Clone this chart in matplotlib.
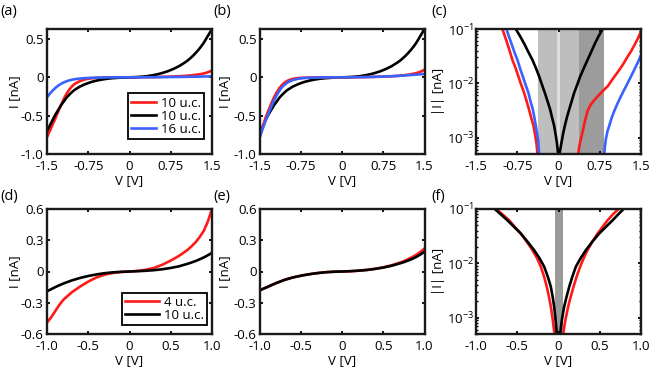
import matplotlib
matplotlib.use("Agg")
import matplotlib.pyplot as plt
from matplotlib.ticker import LogLocator, NullFormatter

plt.rcParams['font.family'] = ['Open Sans', 'DejaVu Sans']
plt.rcParams['font.size'] = 9.5
plt.rcParams['axes.unicode_minus'] = False

RED = '#ff1a1a'
BLUE = '#3a62ff'
BLACK = '#000000'

# ---- data ----
# panels (a), (b): I-V, 1.5 V sweep
v_ab = [-1.5, -1.45, -1.4, -1.35, -1.3, -1.25, -1.2, -1.15, -1.1, -1.05, -1.0,
        -0.9, -0.8, -0.7, -0.6, -0.5, -0.4, -0.3, -0.2, -0.1, 0,
        0.1, 0.2, 0.3, 0.4, 0.5, 0.6, 0.7, 0.8, 0.9, 1.0,
        1.05, 1.1, 1.15, 1.2, 1.25, 1.3, 1.35, 1.4, 1.45, 1.5]
a_red = [-0.78, -0.70, -0.62, -0.54, -0.45, -0.37, -0.29, -0.22, -0.165, -0.12, -0.088,
         -0.048, -0.025, -0.013, -0.007, -0.004, -0.002, -0.001, -0.0005, 0, 0,
         0.0005, 0.001, 0.002, 0.003, 0.004, 0.006, 0.008, 0.011, 0.014, 0.018,
         0.021, 0.024, 0.028, 0.032, 0.037, 0.043, 0.05, 0.06, 0.073, 0.09]
a_black = [-0.70, -0.63, -0.56, -0.49, -0.43, -0.37, -0.32, -0.27, -0.23, -0.195, -0.165,
           -0.12, -0.088, -0.062, -0.043, -0.029, -0.018, -0.011, -0.006, -0.002, 0,
           0.002, 0.006, 0.013, 0.024, 0.038, 0.057, 0.08, 0.11, 0.145, 0.19,
           0.215, 0.245, 0.278, 0.315, 0.355, 0.40, 0.45, 0.51, 0.57, 0.63]
a_blue = [-0.26, -0.215, -0.175, -0.14, -0.11, -0.087, -0.068, -0.053, -0.041, -0.032, -0.025,
          -0.016, -0.01, -0.007, -0.005, -0.003, -0.002, -0.001, -0.0005, 0, 0,
          0.0003, 0.0006, 0.001, 0.0015, 0.002, 0.0028, 0.0035, 0.0043, 0.005, 0.006,
          0.0065, 0.007, 0.0075, 0.008, 0.0088, 0.0095, 0.0105, 0.0115, 0.0125, 0.013]
b_red = [-0.77, -0.65, -0.53, -0.44, -0.35, -0.27, -0.2, -0.145, -0.1, -0.068, -0.045,
         -0.02, -0.009, -0.005, -0.003, -0.002, -0.001, -0.0005, 0, 0, 0,
         0.0005, 0.001, 0.002, 0.003, 0.004, 0.006, 0.008, 0.011, 0.014, 0.018,
         0.021, 0.025, 0.029, 0.034, 0.04, 0.047, 0.055, 0.066, 0.08, 0.1]
b_black = [-0.72, -0.64, -0.56, -0.49, -0.43, -0.37, -0.32, -0.27, -0.23, -0.195, -0.165,
           -0.12, -0.088, -0.062, -0.043, -0.029, -0.018, -0.011, -0.006, -0.002, 0,
           0.002, 0.006, 0.013, 0.024, 0.038, 0.057, 0.08, 0.11, 0.145, 0.19,
           0.215, 0.245, 0.278, 0.315, 0.355, 0.40, 0.45, 0.51, 0.57, 0.63]
b_blue = [-0.77, -0.67, -0.57, -0.48, -0.39, -0.31, -0.24, -0.18, -0.13, -0.095, -0.068,
          -0.035, -0.018, -0.01, -0.006, -0.004, -0.002, -0.001, -0.0005, 0, 0,
          0.0005, 0.001, 0.002, 0.003, 0.005, 0.007, 0.009, 0.012, 0.014, 0.018,
          0.02, 0.022, 0.025, 0.027, 0.03, 0.032, 0.035, 0.038, 0.041, 0.044]

# panel (c): |I| on log scale, two branches per curve
c_red_lv = [-1.02, -0.95, -0.89, -0.838, -0.78, -0.73, -0.68, -0.625, -0.58, -0.54, -0.5,
            -0.455, -0.43, -0.41, -0.395, -0.383]
c_red_li = [0.1, 0.062, 0.04, 0.027, 0.019, 0.0135, 0.0095, 0.0067, 0.0047, 0.0034, 0.0024,
            0.00166, 0.0012, 0.0009, 0.0007, 0.0005]
c_blue_lv = [-0.947, -0.9, -0.85, -0.8, -0.747, -0.7, -0.65, -0.6, -0.547, -0.51, -0.47,
             -0.44, -0.413, -0.39, -0.37, -0.352]
c_blue_li = [0.1, 0.072, 0.052, 0.037, 0.027, 0.019, 0.0135, 0.0095, 0.0067, 0.0047, 0.0034,
             0.0024, 0.00166, 0.0012, 0.0009, 0.0005]
c_black_lv = [-0.777, -0.7, -0.625, -0.55, -0.474, -0.41, -0.352, -0.3, -0.249, -0.2, -0.152,
              -0.115, -0.079, -0.05, -0.03, -0.006]
c_black_li = [0.1, 0.074, 0.054, 0.038, 0.027, 0.019, 0.0134, 0.0094, 0.0067, 0.0047, 0.0033,
              0.0023, 0.00165, 0.0011, 0.00082, 0.0005]
c_black_rv = [0.018, 0.055, 0.085, 0.115, 0.15, 0.194, 0.24, 0.285, 0.34, 0.395, 0.46,
              0.528, 0.595, 0.662, 0.73, 0.802]
c_black_ri = [0.0005, 0.00082, 0.0012, 0.00165, 0.0023, 0.0033, 0.0047, 0.0067, 0.0094, 0.0134,
              0.019, 0.027, 0.038, 0.054, 0.074, 0.1]
c_red_rv = [0.358, 0.38, 0.407, 0.44, 0.468, 0.5, 0.528, 0.57, 0.619, 0.68, 0.741, 0.81,
            0.893, 0.98, 1.075, 1.17, 1.257, 1.32, 1.378, 1.44, 1.5]
c_red_ri = [0.0005, 0.0007, 0.00095, 0.0013, 0.00178, 0.0024, 0.0031, 0.0038, 0.0045, 0.0053,
            0.0062, 0.0073, 0.0088, 0.0118, 0.016, 0.022, 0.031, 0.039, 0.05, 0.066, 0.09]
c_blue_rv = [0.832, 0.845, 0.862, 0.89, 0.923, 0.965, 1.014, 1.075, 1.136, 1.2, 1.257,
             1.32, 1.378, 1.44, 1.5]
c_blue_li_r = [0.0005, 0.0007, 0.00095, 0.0013, 0.00166, 0.0023, 0.0031, 0.0043, 0.0058,
               0.0078, 0.0101, 0.0135, 0.0178, 0.024, 0.033]
c_bands = [(-0.364, 0.377), (0.377, 0.832), (-0.03, 0.03)]
c_band_colors = ['#bebebe', '#9c9c9c', '#dddddd']

# panels (d), (e): I-V, 1 V sweep
v_de = [-1.0, -0.95, -0.9, -0.85, -0.8, -0.7, -0.6, -0.5, -0.4, -0.3, -0.2, -0.1, 0,
        0.1, 0.2, 0.3, 0.4, 0.5, 0.6, 0.7, 0.75, 0.8, 0.85, 0.9, 0.95, 1.0]
d_red = [-0.49, -0.44, -0.38, -0.32, -0.27, -0.2, -0.145, -0.097, -0.057, -0.03, -0.014, -0.005, 0,
         0.006, 0.017, 0.035, 0.066, 0.105, 0.15, 0.205, 0.24, 0.28, 0.33, 0.39, 0.48, 0.6]
d_black = [-0.19, -0.17, -0.15, -0.132, -0.115, -0.086, -0.062, -0.043, -0.028, -0.016, -0.008,
           -0.003, 0, 0.003, 0.007, 0.013, 0.022, 0.034, 0.05, 0.073, 0.086, 0.1, 0.117,
           0.135, 0.156, 0.18]
e_red = [-0.18, -0.162, -0.145, -0.127, -0.11, -0.08, -0.057, -0.04, -0.026, -0.015, -0.007,
         -0.002, 0, 0.003, 0.008, 0.015, 0.026, 0.04, 0.06, 0.085, 0.1, 0.118, 0.138,
         0.16, 0.188, 0.22]
e_black = [-0.18, -0.162, -0.145, -0.127, -0.11, -0.08, -0.057, -0.04, -0.026, -0.015, -0.007,
           -0.002, 0, 0.003, 0.008, 0.015, 0.025, 0.038, 0.055, 0.078, 0.09, 0.105, 0.121,
           0.14, 0.163, 0.19]

# panel (f)
f_levels = [0.1, 0.08, 0.062, 0.047, 0.0354, 0.025, 0.0175, 0.0124, 0.0087, 0.0057, 0.0037,
            0.0024, 0.0016, 0.0011, 0.0008, 0.0005]
f_black_lv = [-0.773, -0.7, -0.619, -0.54, -0.457, -0.375, -0.296, -0.23, -0.174, -0.13, -0.093,
              -0.07, -0.053, -0.041, -0.032, -0.02]
f_red_lv = [-0.757, -0.68, -0.599, -0.53, -0.457, -0.385, -0.316, -0.26, -0.215, -0.175, -0.142,
            -0.115, -0.093, -0.077, -0.065, -0.049]
f_black_rv = [0.789, 0.725, 0.656, 0.575, 0.494, 0.41, 0.332, 0.268, 0.211, 0.168, 0.13,
              0.097, 0.069, 0.05, 0.036, 0.02]
f_red_rv = [0.729, 0.66, 0.595, 0.535, 0.474, 0.41, 0.352, 0.305, 0.263, 0.22, 0.182,
            0.147, 0.117, 0.095, 0.077, 0.057]
f_band = (-0.045, 0.049)

# ticks
xt_15 = [-1.5, -0.75, 0, 0.75, 1.5]
xt_15_lab = ['-1.5', '-0.75', '0', '0.75', '1.5']
yt_ab = [-1.0, -0.5, 0, 0.5]
yt_ab_lab = ['-1.0', '-0.5', '0', '0.5']
xt_10 = [-1.0, -0.5, 0, 0.5, 1.0]
xt_10_lab = ['-1.0', '-0.5', '0', '0.5', '1.0']
yt_de = [-0.6, -0.3, 0, 0.3, 0.6]
yt_de_lab = ['-0.6', '-0.3', '0', '0.3', '0.6']

W, H = 665, 375
fig = plt.figure(figsize=(W / 100, H / 100), dpi=100)


def make_ax(left, right, top, bottom):
    ax = fig.add_axes([left / W, 1 - bottom / H, (right - left) / W, (bottom - top) / H])
    for s in ax.spines.values():
        s.set_linewidth(1.7)
        s.set_color('#1a1a1a')
    ax.tick_params(which='both', direction='in', top=True, right=True,
                   length=2.5, width=1.3, pad=2.5, labelsize=9.5)
    ax.tick_params(which='minor', length=1.5, width=1.0)
    ax.tick_params(axis='x', pad=4)
    ax.set_xlabel('V [V]')
    ax.xaxis.set_label_coords(0.5, -0.16)
    return ax


def log_axis(ax):
    ax.set_yscale('log')
    ax.set_ylim(5e-4, 1e-1)
    ax.yaxis.set_major_locator(LogLocator(base=10, numticks=10))
    ax.yaxis.set_minor_locator(LogLocator(base=10, subs=range(2, 10), numticks=10))
    ax.yaxis.set_minor_formatter(NullFormatter())
    ax.tick_params(axis='y', pad=1.5)
    ax.set_ylabel('|I| [nA]')
    ax.yaxis.set_label_coords(-0.185, 0.5)


def add_legend(ax, anchor, hlen):
    leg = ax.legend(loc='lower right', bbox_to_anchor=anchor, borderaxespad=0,
                    fancybox=False, edgecolor='black', framealpha=1, fontsize=9.5,
                    handlelength=hlen, handletextpad=0.35, labelspacing=0.0,
                    borderpad=0.25)
    leg.get_frame().set_linewidth(1.3)


lw = 1.9
col_x = [(47, 212), (260, 424.5), (476, 641)]
row_y = [(29, 154), (209, 334)]

# (a)
ax = make_ax(col_x[0][0], col_x[0][1], *row_y[0])
ax.plot(v_ab, a_red, color=RED, lw=lw, label='10 u.c.')
ax.plot(v_ab, a_black, color=BLACK, lw=lw, label='10 u.c.')
ax.plot(v_ab, a_blue, color=BLUE, lw=lw, label='16 u.c.')
ax.set_xlim(-1.5, 1.5)
ax.set_ylim(-1.0, 0.63)
ax.set_xticks(xt_15, xt_15_lab)
ax.set_yticks(yt_ab, yt_ab_lab)
ax.set_ylabel('I [nA]')
ax.yaxis.set_label_coords(-0.158, 0.5)
add_legend(ax, (0.952, 0.12), 1.9)

# (b)
ax = make_ax(col_x[1][0], col_x[1][1], *row_y[0])
ax.plot(v_ab, b_black, color=BLACK, lw=lw)
ax.plot(v_ab, b_red, color=RED, lw=lw)
ax.plot(v_ab, b_blue, color=BLUE, lw=lw)
ax.set_xlim(-1.5, 1.5)
ax.set_ylim(-1.0, 0.63)
ax.set_xticks(xt_15, xt_15_lab)
ax.set_yticks(yt_ab, yt_ab_lab)
ax.set_ylabel('I [nA]')
ax.yaxis.set_label_coords(-0.176, 0.5)

# (c)
ax = make_ax(col_x[2][0], col_x[2][1], *row_y[0])
for (x0, x1), c in zip(c_bands, c_band_colors):
    ax.axvspan(x0, x1, color=c, lw=0, zorder=0)
ax.plot(c_red_lv, c_red_li, color=RED, lw=lw)
ax.plot(c_red_rv, c_red_ri, color=RED, lw=lw)
ax.plot(c_blue_lv, c_blue_li, color=BLUE, lw=lw)
ax.plot(c_blue_rv, c_blue_li_r, color=BLUE, lw=lw)
ax.plot(c_black_lv, c_black_li, color=BLACK, lw=lw)
ax.plot(c_black_rv, c_black_ri, color=BLACK, lw=lw)
ax.set_xlim(-1.5, 1.5)
ax.set_xticks(xt_15, xt_15_lab)
log_axis(ax)

# (d)
ax = make_ax(col_x[0][0], col_x[0][1], *row_y[1])
ax.plot(v_de, d_red, color=RED, lw=lw, label='4 u.c.')
ax.plot(v_de, d_black, color=BLACK, lw=lw, label='10 u.c.')
ax.set_xlim(-1.0, 1.0)
ax.set_ylim(-0.6, 0.6)
ax.set_xticks(xt_10, xt_10_lab)
ax.set_yticks(yt_de, yt_de_lab)
ax.set_ylabel('I [nA]')
ax.yaxis.set_label_coords(-0.158, 0.5)
add_legend(ax, (0.97, 0.07), 2.6)

# (e)
ax = make_ax(col_x[1][0], col_x[1][1], *row_y[1])
ax.plot(v_de, e_red, color=RED, lw=lw)
ax.plot(v_de, e_black, color=BLACK, lw=lw)
ax.set_xlim(-1.0, 1.0)
ax.set_ylim(-0.6, 0.6)
ax.set_xticks(xt_10, xt_10_lab)
ax.set_yticks(yt_de, yt_de_lab)
ax.set_ylabel('I [nA]')
ax.yaxis.set_label_coords(-0.176, 0.5)

# (f)
ax = make_ax(col_x[2][0], col_x[2][1], *row_y[1])
ax.axvspan(f_band[0], f_band[1], color='#9a9a9a', lw=0, zorder=0)
ax.plot(f_red_lv, f_levels, color=RED, lw=lw)
ax.plot(f_red_rv, f_levels, color=RED, lw=lw)
ax.plot(f_black_lv, f_levels, color=BLACK, lw=lw)
ax.plot(f_black_rv, f_levels, color=BLACK, lw=lw)
ax.set_xlim(-1.0, 1.0)
ax.set_xticks(xt_10, xt_10_lab)
log_axis(ax)

# panel letters
for lab, x, y in [('(a)', 0, 4), ('(b)', 213, 4), ('(c)', 431, 4),
                  ('(d)', 0, 189), ('(e)', 213, 189), ('(f)', 431, 189)]:
    fig.text(x / W, 1 - y / H, lab, ha='left', va='top', fontsize=10.5)

fig.savefig('out.png', dpi=100)
